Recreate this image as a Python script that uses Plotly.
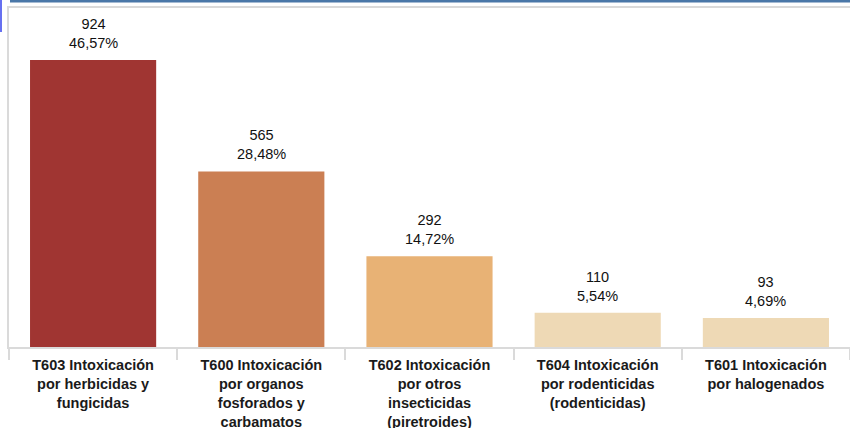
import plotly.graph_objects as go

categories = [
    "T603 Intoxicación<br>por herbicidas y<br>fungicidas",
    "T600 Intoxicación<br>por organos<br>fosforados y<br>carbamatos",
    "T602 Intoxicación<br>por otros<br>insecticidas<br>(piretroides)",
    "T604 Intoxicación<br>por rodenticidas<br>(rodenticidas)",
    "T601 Intoxicación<br>por halogenados",
]
counts = [924, 565, 292, 110, 93]
percents = ["46,57%", "28,48%", "14,72%", "5,54%", "4,69%"]
colors = ["#A03532", "#CB7F53", "#E8B275", "#EED9B5", "#EED9B5"]

W, H = 850, 428
ML, MR, MT, MB = 9, 0, 8, 81

fig = go.Figure()
fig.add_bar(
    x=categories,
    y=counts,
    marker=dict(color=colors, line=dict(width=0)),
    hoverinfo="skip",
)

# value + share labels above each bar
for cat, c, p in zip(categories, counts, percents):
    fig.add_annotation(
        x=cat, y=c, text=f"{c}<br>{p}",
        showarrow=False, yanchor="bottom", yshift=7,
        font=dict(family="Liberation Sans, Arial", size=14.5, color="#111111"),
    )

# decorative frame strips above the plot
pw = W - ML - MR
ph = H - MT - MB
def px_x(v):
    return (v - ML) / pw
def px_y(v):
    return (H - MB - v) / ph

fig.add_shape(type="rect", xref="paper", yref="paper",
              x0=px_x(10), x1=px_x(850), y0=px_y(2.5), y1=px_y(0),
              fillcolor="#4A77A8", line=dict(width=0), layer="above")
fig.add_shape(type="rect", xref="paper", yref="paper",
              x0=px_x(0), x1=px_x(2), y0=px_y(32), y1=px_y(0),
              fillcolor="#6670F0", line=dict(width=0), layer="above")

fig.update_layout(
    width=W, height=H,
    margin=dict(l=ML, r=MR, t=MT, b=MB, autoexpand=False),
    paper_bgcolor="white",
    plot_bgcolor="white",
    bargap=0.25,
    showlegend=False,
    font=dict(family="Liberation Sans, Arial", size=14, color="#222222"),
)
fig.update_xaxes(
    type="category",
    automargin=False,
    showline=True, linecolor="#DADADA", linewidth=2, mirror=True,
    ticks="outside", tickson="boundaries", ticklen=11, tickwidth=2,
    tickcolor="#DADADA",
    tickfont=dict(family="Liberation Sans, Arial", size=14.5, color="#1A1A1A",
                  weight="bold"),
    ticklabelstandoff=4,
    showgrid=False,
)
fig.update_yaxes(
    range=[0, 1091],
    automargin=False,
    showline=True, linecolor="#DADADA", linewidth=2,
    showticklabels=False, ticks="", showgrid=False, zeroline=False,
)

fig.write_html("out.html", config={"displayModeBar": False},
               post_script="document.body.style.margin='0';")
